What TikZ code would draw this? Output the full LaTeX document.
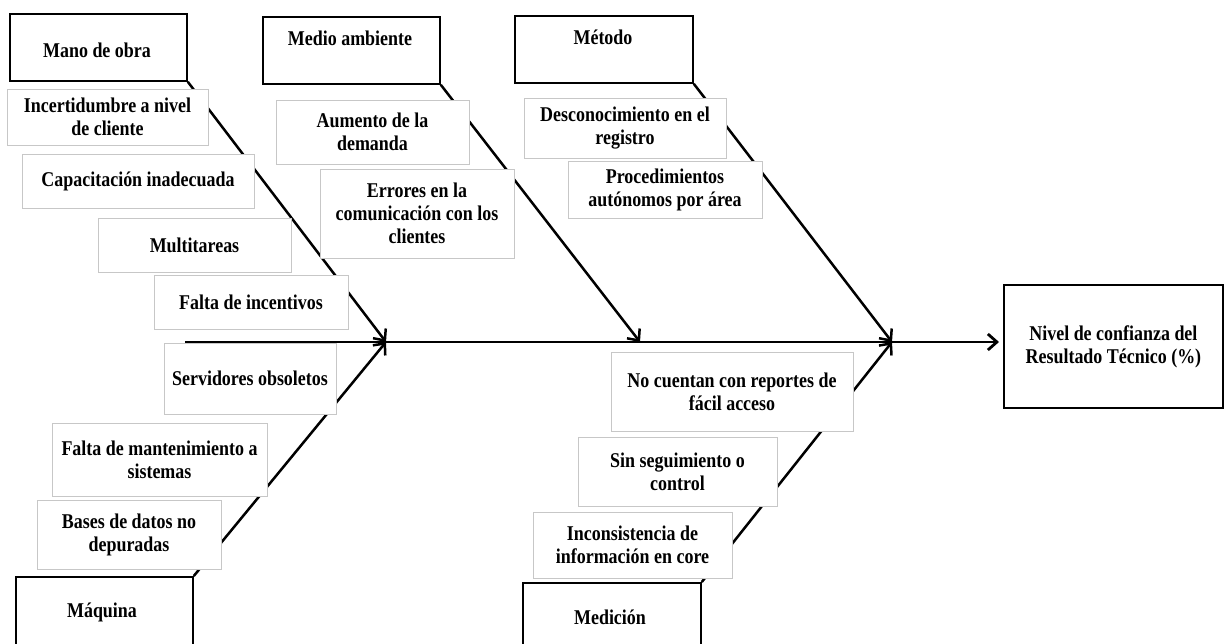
\documentclass[tikz,border=0pt]{standalone}
\usepackage{fontspec}
\setmainfont{Liberation Serif}[FakeStretch=0.855]
\usetikzlibrary{arrows.meta}

\begin{document}
\begin{tikzpicture}[x=1pt,y=-1pt,
  every node/.style={font=\bfseries\fontsize{21}{23}\selectfont, inner sep=0pt},
  catbox/.style={draw=black, line width=1.8pt, anchor=north west},
  cattext/.style={align=center},
  causebox/.style={draw=black!22, line width=0.9pt, fill=white, align=center},
  resbox/.style={draw=black, line width=1.8pt, anchor=north west, align=center},
  bone/.style={line width=2.5pt, -{Straight Barb[length=9pt,width=16pt]}},
  spine/.style={line width=2.8pt, -{Straight Barb[length=9pt,width=16pt]}}
]
\useasboundingbox (0,0) rectangle (1224,644);

% category headers
\node[catbox, minimum width=177pt, minimum height=67pt] (mano) at (9,13) {};
\node[cattext] (manoT) at (97,50) {Mano de obra};
\node[catbox, minimum width=177pt, minimum height=67pt] (medio) at (262,16) {};
\node[cattext] (medioT) at (350,38) {Medio ambiente};
\node[catbox, minimum width=178pt, minimum height=67pt] (metodo) at (514,15) {};
\node[cattext] (metodoT) at (603,37) {Método};
\node[catbox, minimum width=177pt, minimum height=80pt] (maq) at (15,576) {};
\node[cattext] (maqT) at (102,612) {Máquina};
\node[catbox, minimum width=178pt, minimum height=80pt] (medic) at (522,582) {};
\node[cattext] (medicT) at (610,617) {Medición};

% effect
\node[resbox, minimum width=219pt, minimum height=123pt] (res) at (1003,284)
  {Nivel de confianza del\\Resultado Técnico (\%)};

% spine and bones
\coordinate (sp0) at (185,342);
\coordinate (j1) at (386,342);
\coordinate (j2) at (640,342);
\coordinate (j3) at (892,342);
\draw[spine, shorten >=4pt] (sp0) -- (sp0 -| res.west);
\draw[bone] (mano.south east) -- (j1);
\draw[bone] (maq.north east) -- (j1);
\draw[bone] (medio.south east) -- (j2);
\draw[bone] (metodo.south east) -- (j3);
\draw[bone] (medic.north east) -- (j3);

% causes: Mano de obra
\node[causebox, minimum width=201pt, minimum height=56pt] (c1) at (107.5,117) {Incertidumbre a nivel\\de cliente};
\node[causebox, minimum width=232pt, minimum height=54pt] (c2) at (138,181) {Capacitación inadecuada};
\node[causebox, minimum width=193pt, minimum height=54pt] (c3) at (194.5,245) {Multitareas};
\node[causebox, minimum width=194pt, minimum height=54pt] (c4) at (251,302) {Falta de incentivos};

% causes: Máquina
\node[causebox, minimum width=172pt, minimum height=71pt] (c5) at (250,378.5) {Servidores obsoletos};
\node[causebox, minimum width=215pt, minimum height=73pt] (c6) at (159.5,459.5) {Falta de mantenimiento a\\sistemas};
\node[causebox, minimum width=184pt, minimum height=69pt] (c7) at (129,534.5) {Bases de datos no\\depuradas};

% causes: Medio ambiente
\node[causebox, minimum width=193pt, minimum height=64pt] (c8) at (372.5,132) {Aumento de la\\demanda};
\node[causebox, minimum width=194pt, minimum height=89pt] (c9) at (417,213.5) {Errores en la\\comunicación con los\\clientes};

% causes: Método
\node[causebox, minimum width=202pt, minimum height=60pt] (c10) at (625,128) {Desconocimiento en el\\registro};
\node[causebox, minimum width=194pt, minimum height=57pt] (c11) at (665,189.5) {Procedimientos\\autónomos por área};

% causes: Medición
\node[causebox, minimum width=242pt, minimum height=79pt] (c12) at (732,391.5) {No cuentan con reportes de\\fácil acceso};
\node[causebox, minimum width=199pt, minimum height=69pt] (c13) at (677.5,471.5) {Sin seguimiento o\\control};
\node[causebox, minimum width=199pt, minimum height=66pt] (c14) at (632.5,545) {Inconsistencia de\\información en core};
\end{tikzpicture}
\end{document}
